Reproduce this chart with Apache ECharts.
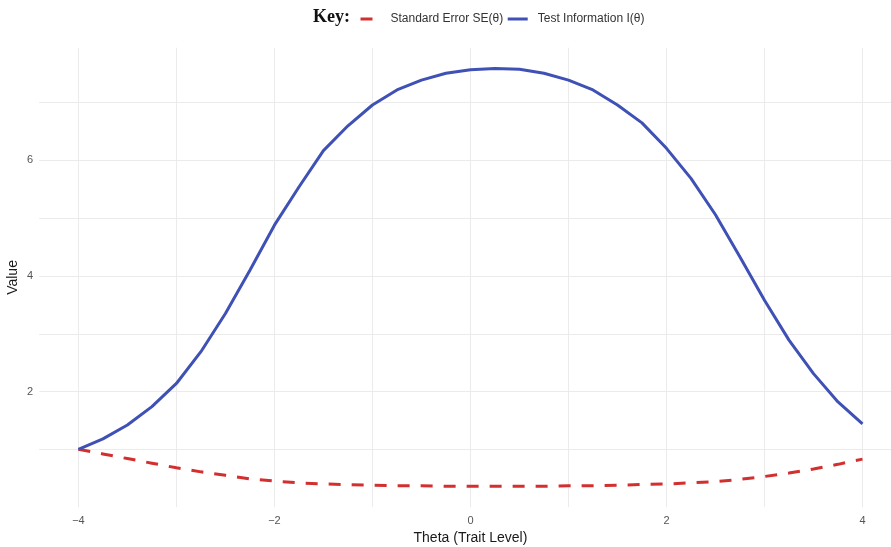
<!DOCTYPE html>
<html>
<head>
<meta charset="utf-8">
<script src="https://cdn.jsdelivr.net/npm/echarts@6/dist/echarts.min.js"></script>
<style>html,body{margin:0;padding:0;background:#fff}#c{width:891px;height:547px}</style>
</head>
<body>
<div id="c"></div>
<script>
var theta = [-4, -3.75, -3.5, -3.25, -3, -2.75, -2.5, -2.25, -2, -1.75, -1.5, -1.25, -1, -0.75, -0.5, -0.25, 0,
             0.25, 0.5, 0.75, 1, 1.25, 1.5, 1.75, 2, 2.25, 2.5, 2.75, 3, 3.25, 3.5, 3.75, 4];
var testInfo = [1.00, 1.18, 1.42, 1.74, 2.14, 2.69, 3.35, 4.10, 4.88, 5.54, 6.17, 6.60, 6.96, 7.22, 7.39, 7.51, 7.57,
                7.59, 7.58, 7.51, 7.39, 7.22, 6.96, 6.65, 6.21, 5.69, 5.06, 4.33, 3.58, 2.89, 2.31, 1.82, 1.44];
var stdError = [1.00, 0.92, 0.84, 0.76, 0.68, 0.61, 0.55, 0.49, 0.45, 0.42, 0.40, 0.39, 0.38, 0.37, 0.37, 0.36, 0.36,
                0.36, 0.36, 0.36, 0.37, 0.37, 0.38, 0.39, 0.40, 0.42, 0.44, 0.48, 0.53, 0.59, 0.66, 0.74, 0.83];
var xTickLabels = [-4, -2, 0, 2, 4];
var xGrid = [-4, -3, -2, -1, 0, 1, 2, 3, 4];
var yTickLabels = [2, 4, 6];
var yGrid = [1, 2, 3, 4, 5, 6, 7];

function pairs(xs, ys) { return xs.map(function (x, i) { return [x, ys[i]]; }); }
function fmt(v) { return v < 0 ? '\u2212' + Math.abs(v) : String(v); }

var chart = echarts.init(document.getElementById('c'), null, { renderer: 'canvas' });
chart.setOption({
  backgroundColor: '#ffffff',
  animation: false,
  graphic: [{
    type: 'text', left: 313, top: 8,
    style: { text: 'Key:', font: 'bold 18px "Liberation Serif", "DejaVu Serif", serif', fill: '#111' }
  }],
  legend: {
    left: 354, top: 8,
    itemWidth: 20, itemHeight: 4, itemGap: 3,
    itemStyle: { opacity: 0 },
    textStyle: { fontFamily: '"Liberation Sans", Arial, sans-serif', fontSize: 12, color: '#333', padding: [0, 0, 0, 5] },
    lineStyle: { width: 3 },
    data: ['Standard Error SE(\u03b8)', 'Test Information I(\u03b8)']
  },
  grid: { left: 39.2, right: -10.7, top: 47.8, bottom: 39.9, containLabel: false, outerBoundsMode: 'none' },
  xAxis: {
    type: 'value', min: -4.4, max: 4.4,
    name: 'Theta (Trait Level)', nameLocation: 'middle', nameGap: 22,
    nameTextStyle: { fontFamily: '"Liberation Sans", Arial, sans-serif', fontSize: 14, color: '#1a1a1a' },
    axisLine: { show: false },
    axisTick: { show: false, customValues: xGrid },
    axisLabel: { customValues: xTickLabels, formatter: fmt, margin: 8,
      fontFamily: '"Liberation Sans", Arial, sans-serif', fontSize: 11, color: '#555' },
    splitLine: { show: true, lineStyle: { color: '#ebebeb', width: 1 } }
  },
  yAxis: {
    type: 'value', min: 0, max: 7.95,
    name: 'Value', nameLocation: 'middle', nameGap: 19, nameRotate: 90, nameMoveOverlap: false,
    nameTextStyle: { fontFamily: '"Liberation Sans", Arial, sans-serif', fontSize: 14, color: '#1a1a1a' },
    axisLine: { show: false },
    axisTick: { show: false, customValues: yGrid },
    axisLabel: { customValues: yTickLabels, formatter: fmt, margin: 6,
      fontFamily: '"Liberation Sans", Arial, sans-serif', fontSize: 11, color: '#555' },
    splitLine: { show: true, lineStyle: { color: '#ebebeb', width: 1 } }
  },
  series: [
    {
      name: 'Standard Error SE(\u03b8)', type: 'line', data: pairs(theta, stdError),
      smooth: false, symbol: 'none', showSymbol: false,
      itemStyle: { color: '#D32F2F' },
      lineStyle: { color: '#D32F2F', width: 3, type: [12, 11], cap: 'butt' }
    },
    {
      name: 'Test Information I(\u03b8)', type: 'line', data: pairs(theta, testInfo),
      smooth: false, symbol: 'none', showSymbol: false,
      itemStyle: { color: '#3F51B5' },
      lineStyle: { color: '#3F51B5', width: 3 }
    }
  ]
});
</script>
</body>
</html>
